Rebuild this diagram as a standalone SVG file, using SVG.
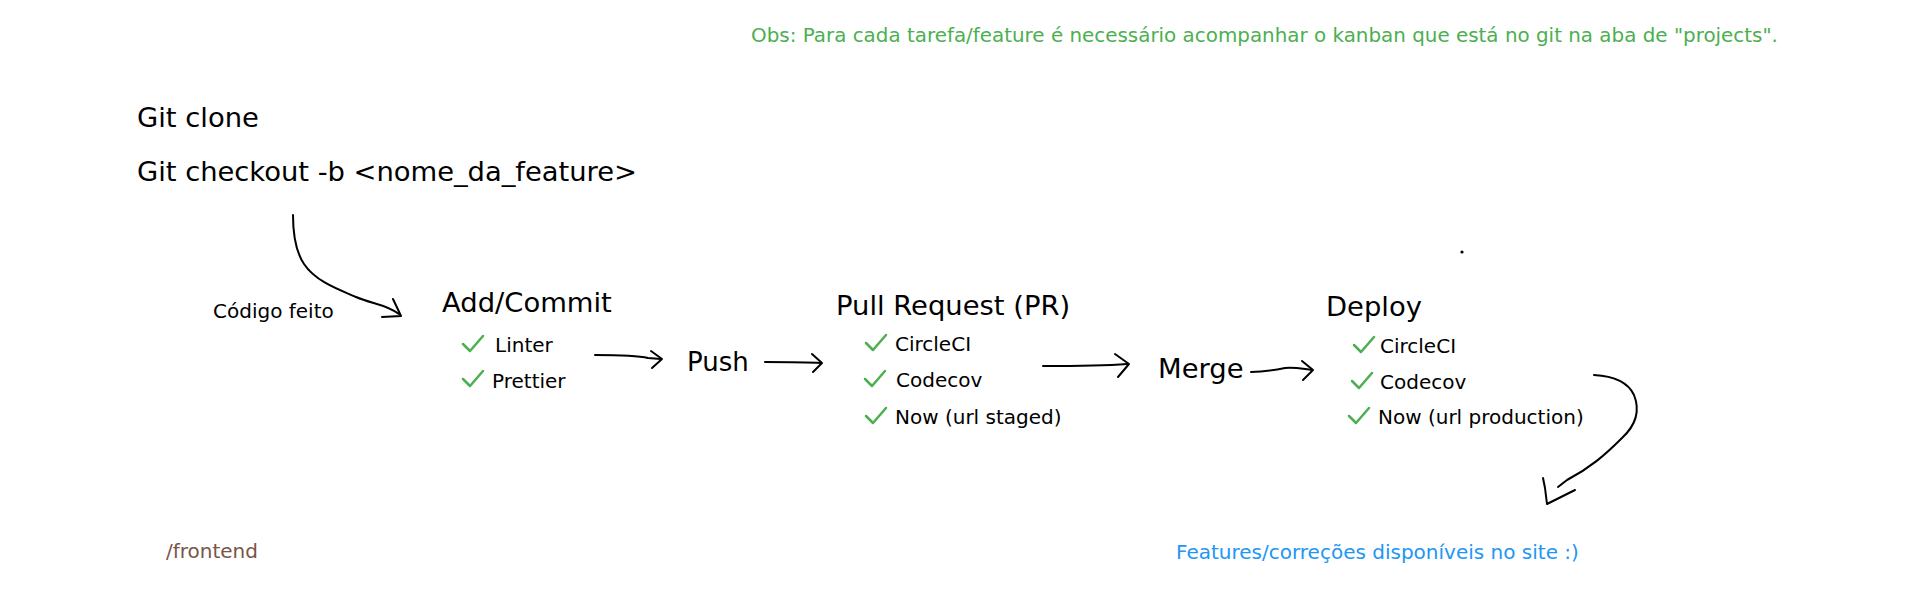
<svg xmlns="http://www.w3.org/2000/svg" width="1920" height="591" viewBox="0 0 1920 591">
<style>
text{font-family:"DejaVu Sans","Liberation Sans",sans-serif;fill:#000}
.h{font-size:27.4px}
.s{font-size:20px}
.obs{fill:#4caf50;font-size:19.9px}
.fe{fill:#795548}
.ft{fill:#2196f3}
.ck{fill:none;stroke:#4caf50;stroke-width:2.5;stroke-linecap:round;stroke-linejoin:round}
.ln{fill:none;stroke:#000;stroke-width:2;stroke-linecap:round;stroke-linejoin:round}
</style>
<rect width="1920" height="591" fill="#fff"/>
<defs>
<path id="chk" d="M0,6 L7,13 L20,-2" class="ck"/>
</defs>

<g id="obs"><text class="obs" x="751" y="42">Obs: Para cada tarefa/feature é necessário acompanhar o kanban que está no git na aba de "projects".</text></g>

<g id="git"><text class="h" x="137" y="127">Git clone</text>
<text class="h" x="137" y="181" textLength="500">Git checkout -b &lt;nome_da_feature&gt;</text></g>

<g id="codigo"><text class="s" x="213" y="318">Código feito</text></g>

<g id="addcommit"><text class="h" x="442" y="312">Add/Commit</text>
<use href="#chk" x="463" y="338"/><text class="s" x="495" y="352">Linter</text>
<use href="#chk" x="463" y="373"/><text class="s" x="492" y="388">Prettier</text></g>

<g id="push"><text class="h" x="687" y="371" style="font-size:26px">Push</text></g>

<g id="pr"><text class="h" x="836" y="315">Pull Request (PR)</text>
<use href="#chk" x="866" y="337"/><text class="s" x="895" y="351">CircleCI</text>
<use href="#chk" x="865" y="373"/><text class="s" x="896" y="387">Codecov</text>
<use href="#chk" x="866" y="410"/><text class="s" x="895" y="424">Now (url staged)</text></g>

<g id="merge"><text class="h" x="1158" y="378">Merge</text></g>

<g id="deploy"><text class="h" x="1326" y="316">Deploy</text>
<use href="#chk" x="1354" y="339"/><text class="s" x="1380" y="353">CircleCI</text>
<use href="#chk" x="1352" y="375"/><text class="s" x="1380" y="389">Codecov</text>
<use href="#chk" x="1349" y="410"/><text class="s" x="1378" y="424">Now (url production)</text></g>

<g id="frontend"><text class="s fe" x="166" y="558">/frontend</text></g>
<g id="features"><text class="s ft" x="1176" y="559">Features/correções disponíveis no site :)</text></g>

<circle cx="1462" cy="252" r="1.6" fill="#000"/>

<g id="connectors">
<path class="ln" d="M293,215 C293,235 296,252 304,264 C316,282 340,290 356,297 C372,304 386,304 399,314"/>
<path class="ln" d="M393,299 L401,316 L382,317"/>
<path class="ln" d="M595,355 C618,355 636,355 648,358 L661,359"/>
<path class="ln" d="M651,351 L662,359 L652,368"/>
<path class="ln" d="M765,362 C785,362 805,362 821,363"/>
<path class="ln" d="M812,354 L822,363 L813,372"/>
<path class="ln" d="M1043,366 C1070,366 1100,366 1127,364"/>
<path class="ln" d="M1115,354 L1129,364 L1118,377"/>
<path class="ln" d="M1251,372 C1265,372 1275,370 1285,368 C1295,367 1303,369 1312,370"/>
<path class="ln" d="M1302,361 L1313,370 L1303,380"/>
<path class="ln" d="M1594,375 C1612,376 1628,382 1634,395 C1640,410 1636,425 1622,438 C1605,455 1590,468 1567,480 L1558,487"/>
<path class="ln" d="M1543,478 L1545,488 L1547,504 L1575,490"/>
</g>
</svg>
